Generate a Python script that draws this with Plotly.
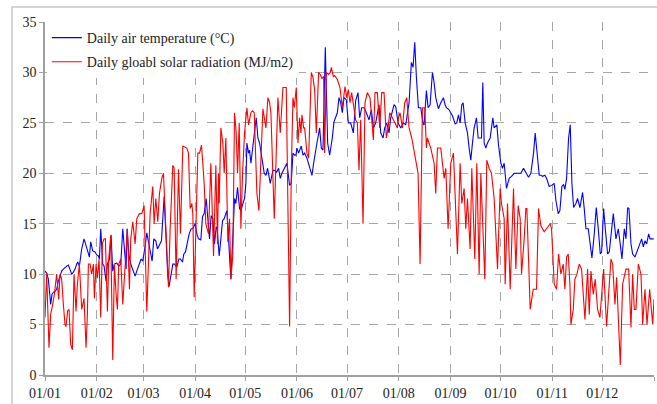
import plotly.graph_objects as go

# Day of year (0 = 1 January) and values
temp_day = [0.0, 1.0, 2.0, 3.4, 4.2, 5.0, 6.0, 7.0, 8.0, 9.0, 10.0, 11.0, 12.0, 13.0, 14.0, 15.0, 16.0, 17.0, 18.0, 19.0,
            19.6, 20.6, 22.0, 23.4, 24.6, 26.0, 26.6, 27.4, 28.6, 30.0, 31.0, 32.0, 32.6, 33.4, 34.6, 35.4, 36.6, 37.4, 38.6, 39.6,
            40.6, 41.6, 43.0, 44.2, 45.4, 46.6, 47.6, 48.6, 49.2, 50.2, 51.4, 53.0, 54.0, 55.0, 56.4, 57.6, 58.6, 59.4, 60.2, 61.0,
            62.0, 63.0, 64.2, 65.2, 66.4, 67.4, 68.6, 69.8, 71.4, 72.4, 73.6, 74.4, 75.4, 76.6, 77.6, 79.0, 80.2, 81.2, 82.4, 83.2,
            84.2, 85.2, 86.4, 87.6, 88.6, 90.0, 91.0, 92.0, 93.4, 94.4, 95.4, 96.6, 97.6, 98.6, 99.6, 100.6, 101.6, 102.6, 103.2, 104.4,
            105.4, 106.4, 107.4, 109.0, 110.0, 111.4, 112.4, 113.6, 114.4, 115.4, 116.6, 117.4, 118.6, 119.6, 120.4, 121.0, 122.0, 122.6, 123.4, 124.4,
            125.4, 126.6, 127.6, 128.6, 130.0, 131.4, 132.4, 133.4, 135.0, 136.6, 137.6, 138.8, 140.0, 141.0, 142.0, 143.4, 145.0, 146.6, 147.6, 148.6,
            149.6, 150.4, 151.0, 152.0, 153.6, 154.6, 155.6, 157.0, 158.0, 159.0, 160.0, 161.0, 162.0, 163.0, 164.6, 165.6, 166.6, 168.0, 169.4, 170.6,
            172.2, 173.2, 175.2, 176.2, 177.2, 178.2, 179.2, 180.6, 181.8, 183.2, 184.8, 186.2, 187.6, 188.6, 189.8, 191.2, 192.6, 194.2, 195.6, 196.8,
            198.2, 199.2, 200.2, 201.2, 202.6, 203.6, 204.8, 206.2, 207.2, 209.2, 210.2, 211.6, 213.2, 214.8, 216.2, 218.2, 219.6, 220.6, 221.6, 222.6,
            223.8, 225.2, 226.6, 227.2, 228.6, 229.6, 230.8, 232.2, 233.2, 234.2, 235.8, 237.2, 238.8, 239.8, 240.6, 242.2, 244.2, 245.8, 246.8, 247.8,
            248.8, 249.8, 250.6, 251.8, 253.2, 254.2, 255.2, 256.2, 257.2, 258.6, 259.6, 260.8, 261.6, 262.4, 263.2, 264.2, 265.2, 266.8, 268.4, 269.2,
            270.8, 271.8, 273.2, 274.2, 275.2, 276.6, 278.2, 279.6, 281.2, 282.6, 283.8, 285.2, 286.8, 288.2, 289.8, 291.2, 292.8, 293.8, 295.2, 296.2,
            297.2, 298.2, 299.6, 300.6, 302.2, 303.6, 305.2, 306.2, 307.6, 308.6, 309.8, 310.8, 311.6, 312.6, 313.8, 314.8, 315.8, 316.8, 318.2, 319.2,
            320.6, 322.2, 323.2, 324.2, 325.6, 327.8, 329.2, 330.4, 331.6, 332.8, 333.6, 334.8, 335.8, 337.2, 338.2, 339.2, 340.6, 342.2, 343.6, 344.6,
            345.8, 347.2, 348.2, 349.2, 350.0, 351.2, 352.2, 353.6, 355.2, 356.6, 357.6, 358.6, 359.6, 360.6, 361.8, 362.6, 363.8, 364.8]
temp_val = [10.3, 10.1, 9.5, 7.0, 8.0, 8.2, 8.3, 8.5, 9.3, 9.9, 10.3, 10.5, 10.7, 10.8, 10.9, 10.5, 10.0, 10.2, 10.5, 11.0,
            11.2, 10.8, 12.5, 13.5, 12.8, 12.0, 11.7, 13.2, 12.3, 12.2, 11.9, 11.8, 11.5, 14.5, 11.0, 10.8, 9.3, 11.0, 11.5, 13.9,
            10.3, 11.0, 11.1, 10.8, 11.0, 14.5, 12.5, 10.5, 14.5, 12.0, 11.0, 10.2, 9.8, 10.3, 11.0, 11.5, 11.3, 12.0, 13.0, 14.1,
            13.3, 12.5, 11.3, 13.5, 13.3, 12.5, 13.0, 13.3, 17.7, 14.0, 9.8, 8.8, 10.0, 11.0, 11.0, 10.7, 11.5, 11.5, 11.2, 12.0,
            12.2, 13.0, 14.0, 14.5, 14.5, 15.0, 14.0, 13.5, 13.4, 15.7, 16.0, 17.5, 15.5, 13.5, 15.8, 15.5, 13.0, 14.7, 14.5, 11.8,
            13.5, 15.3, 15.5, 16.3, 13.5, 9.5, 13.0, 17.5, 17.0, 18.6, 16.5, 16.3, 17.0, 17.5, 19.0, 23.0, 22.0, 22.3, 21.0, 22.5,
            24.0, 25.5, 23.5, 23.0, 21.5, 20.0, 19.8, 20.5, 19.0, 20.3, 20.3, 20.1, 20.5, 19.5, 20.0, 20.5, 21.0, 18.8, 19.0, 22.0,
            21.8, 21.8, 22.5, 22.0, 22.7, 21.8, 22.0, 21.5, 21.0, 20.5, 19.8, 21.0, 22.2, 23.0, 24.5, 22.5, 22.3, 32.5, 23.0, 21.8,
            23.5, 25.1, 26.0, 27.5, 27.0, 26.0, 27.5, 27.3, 25.0, 25.0, 24.0, 27.2, 28.0, 25.5, 26.5, 26.5, 26.0, 25.3, 26.3, 24.5,
            25.0, 26.0, 26.8, 24.0, 23.5, 24.5, 25.0, 24.0, 25.5, 26.8, 26.6, 25.0, 24.5, 25.0, 24.8, 27.0, 31.0, 30.5, 33.0, 29.5,
            26.5, 26.5, 24.9, 24.8, 28.2, 26.5, 26.8, 30.0, 29.0, 27.5, 26.4, 27.0, 27.5, 26.8, 26.5, 26.3, 25.7, 24.9, 25.0, 25.8,
            25.0, 26.8, 27.0, 25.0, 24.0, 22.5, 21.3, 23.0, 24.5, 25.5, 23.5, 23.5, 23.5, 29.0, 23.0, 22.5, 23.0, 23.5, 25.5, 24.5,
            24.8, 22.8, 21.0, 20.5, 21.0, 18.5, 19.5, 19.7, 20.0, 20.0, 20.0, 20.0, 20.5, 20.0, 19.6, 20.0, 22.0, 24.0, 21.0, 19.8,
            19.8, 19.7, 19.8, 19.5, 18.7, 18.8, 19.0, 17.3, 16.0, 16.3, 18.7, 18.9, 18.4, 19.5, 23.5, 24.8, 19.0, 16.6, 17.0, 17.5,
            16.6, 18.1, 16.5, 14.5, 14.5, 11.6, 14.0, 16.6, 14.5, 12.0, 12.2, 16.5, 14.5, 12.0, 12.2, 14.0, 16.0, 13.5, 14.5, 13.2,
            11.5, 14.5, 13.5, 16.6, 16.5, 13.0, 12.0, 11.7, 12.5, 13.0, 13.5, 12.7, 13.3, 13.0, 14.0, 13.5, 13.5, 13.5]

rad_day = [0.0, 1.0, 2.4, 3.4, 4.6, 5.6, 7.0, 8.2, 9.0, 10.0, 11.0, 12.0, 12.6, 13.6, 14.4, 15.4, 16.4, 17.4, 18.6, 19.4,
           20.6, 22.0, 23.4, 24.6, 25.4, 26.0, 27.0, 28.0, 29.0, 29.6, 30.6, 31.4, 32.4, 33.4, 34.4, 35.4, 36.2, 37.4, 38.2, 39.4,
           40.6, 41.6, 42.4, 43.4, 44.2, 45.4, 46.6, 49.4, 50.6, 51.4, 52.6, 54.0, 55.0, 56.6, 58.0, 59.4, 61.0, 62.0, 63.0, 64.6,
           65.4, 66.4, 67.6, 68.6, 70.0, 71.0, 72.0, 74.0, 75.0, 76.6, 77.4, 78.6, 80.0, 81.2, 82.6, 85.0, 86.0, 87.0, 88.0, 88.6,
           89.4, 90.6, 91.6, 92.6, 93.8, 95.4, 96.4, 98.0, 99.4, 101.0, 102.4, 103.4, 104.0, 104.4, 105.4, 106.6, 107.4, 108.4, 109.6, 110.6,
           111.4, 112.6, 113.6, 114.6, 115.4, 116.4, 117.4, 118.4, 119.6, 121.0, 122.0, 123.4, 124.4, 125.4, 127.0, 128.2, 130.6, 132.4, 133.6, 134.6,
           135.4, 137.4, 138.6, 139.6, 141.0, 142.6, 144.6, 145.4, 146.6, 147.6, 148.6, 149.4, 150.6, 151.6, 152.6, 153.4, 154.0, 155.0, 155.6, 157.0,
           158.0, 159.6, 160.6, 161.6, 162.6, 164.0, 165.0, 166.0, 167.0, 167.6, 168.6, 170.0, 171.0, 171.6, 172.8, 173.6, 175.2, 176.8, 178.2, 179.8,
           180.8, 181.8, 182.8, 183.8, 186.2, 187.2, 188.2, 189.2, 190.6, 191.8, 193.2, 194.8, 196.8, 197.8, 199.2, 200.6, 201.8, 203.2, 204.6, 205.6,
           206.6, 208.2, 210.2, 211.2, 211.8, 212.8, 214.2, 215.6, 216.8, 218.2, 219.8, 220.8, 222.2, 223.6, 224.8, 226.2, 227.6, 228.6, 229.2, 231.2,
           233.2, 234.2, 235.2, 237.2, 239.2, 240.2, 241.6, 243.2, 244.8, 247.2, 248.8, 249.8, 251.2, 252.2, 253.2, 254.8, 255.8, 257.6, 258.8, 260.2,
           261.2, 263.6, 264.8, 266.2, 267.6, 269.2, 271.2, 272.8, 273.6, 275.2, 275.8, 277.2, 278.8, 280.8, 282.2, 283.6, 284.8, 285.6, 287.2, 288.2,
           288.8, 289.8, 290.8, 292.6, 294.6, 295.8, 297.2, 299.2, 300.6, 302.8, 303.6, 305.2, 306.6, 307.8, 309.2, 310.6, 311.6, 312.6, 313.6, 314.6,
           315.2, 316.6, 317.6, 318.8, 320.2, 321.6, 323.6, 325.2, 326.2, 327.2, 328.6, 329.8, 331.2, 332.6, 334.8, 336.6, 337.8, 339.2, 340.2, 341.6,
           342.6, 344.8, 346.2, 348.2, 349.8, 351.2, 352.2, 353.2, 354.2, 355.6, 357.2, 358.2, 359.6, 360.8, 362.4, 364.2, 365.0]
rad_val = [5.7, 10.0, 2.7, 6.0, 7.0, 8.0, 10.0, 7.5, 10.0, 9.5, 7.0, 5.0, 4.8, 6.4, 6.5, 3.0, 2.5, 10.0, 6.3, 9.0,
           11.0, 6.5, 7.6, 2.7, 6.0, 11.0, 11.0, 10.0, 11.0, 7.6, 11.0, 9.6, 11.5, 5.7, 13.0, 13.5, 13.5, 6.3, 11.5, 13.8,
           1.5, 11.0, 8.5, 6.5, 11.0, 11.5, 7.0, 14.5, 8.5, 13.5, 15.2, 13.0, 15.5, 16.0, 16.0, 16.8, 6.3, 12.0, 16.0, 18.7,
           15.0, 17.5, 15.2, 18.0, 19.5, 20.0, 16.0, 8.7, 14.5, 20.8, 20.5, 9.5, 20.4, 14.0, 22.7, 22.5, 22.0, 16.5, 17.0, 16.0,
           7.7, 15.0, 22.0, 22.0, 22.8, 19.0, 15.0, 14.0, 21.0, 11.8, 20.8, 13.0, 20.0, 17.0, 24.5, 23.0, 20.0, 23.5, 13.2, 15.5,
           9.5, 12.0, 26.0, 24.0, 20.0, 25.0, 14.5, 20.0, 24.0, 26.5, 24.8, 26.0, 26.2, 26.0, 18.0, 16.3, 26.4, 24.5, 27.5, 27.0,
           26.0, 15.5, 22.5, 27.5, 24.0, 28.5, 28.5, 20.0, 4.8, 20.0, 27.5, 26.5, 28.5, 23.0, 25.5, 24.0, 25.8, 24.5, 24.5, 22.0,
           21.5, 30.0, 29.5, 28.3, 24.0, 30.0, 29.8, 29.4, 29.6, 22.0, 30.0, 29.8, 30.0, 30.5, 29.6, 29.7, 29.3, 28.5, 26.5, 28.6,
           27.5, 28.3, 27.0, 28.0, 25.3, 25.0, 20.3, 25.3, 15.0, 27.0, 28.0, 27.5, 23.3, 28.0, 28.0, 24.5, 28.0, 28.0, 23.5, 24.5,
           26.0, 25.5, 24.8, 24.5, 25.5, 26.0, 24.5, 27.0, 27.5, 24.5, 23.5, 22.5, 21.0, 20.0, 11.0, 26.5, 26.5, 22.5, 23.5, 22.5,
           21.0, 18.0, 22.5, 22.5, 19.5, 20.5, 14.5, 21.0, 22.0, 12.0, 21.0, 17.0, 18.5, 14.5, 17.5, 12.5, 20.5, 11.5, 21.0, 10.0,
           20.0, 9.5, 21.3, 20.5, 20.0, 17.5, 10.5, 18.5, 17.0, 15.5, 9.0, 17.0, 8.5, 18.5, 10.5, 16.8, 15.5, 10.0, 13.5, 16.5,
           16.5, 12.0, 6.5, 8.5, 8.5, 16.5, 14.8, 14.2, 14.5, 15.0, 14.5, 9.0, 8.5, 12.0, 10.0, 11.0, 8.5, 11.7, 12.0, 9.0,
           5.0, 6.5, 9.5, 10.0, 11.0, 10.5, 5.5, 10.5, 6.0, 10.3, 8.0, 9.5, 6.5, 5.7, 10.5, 4.8, 8.0, 11.5, 11.0, 7.0,
           9.7, 1.0, 9.0, 10.5, 10.5, 4.7, 10.0, 6.5, 6.5, 11.0, 10.0, 5.0, 8.5, 5.0, 8.5, 5.0, 7.5]

month_start = [0, 31, 59, 90, 120, 151, 181, 212, 243, 273, 304, 334, 365]
month_labels = ["01/01", "01/02", "01/03", "01/04", "01/05", "01/06",
                "01/07", "01/08", "01/09", "01/10", "01/11", "01/12", ""]
y_ticks = [0, 5, 10, 15, 20, 25, 30, 35]

FONT = "Liberation Serif, Times New Roman, serif"
GRID = "#a6a6a6"
TXT = "#222222"

fig = go.Figure()
fig.add_trace(go.Scatter(x=temp_day, y=temp_val, mode="lines",
                         name="Daily air temperature (°C)", legendgroup="t",
                         line=dict(color="#0000ff", width=1.1)))
fig.add_trace(go.Scatter(x=rad_day, y=rad_val, mode="lines",
                         name="Daily gloabl solar radiation (MJ/m2)", legendgroup="r",
                         line=dict(color="#ff0000", width=1.1)))

fig.update_layout(
    width=657, height=404,
    margin=dict(l=45, r=3, t=22, b=29),
    paper_bgcolor="white", plot_bgcolor="white",
    font=dict(family=FONT, size=14, color=TXT),
    showlegend=True,
    legend=dict(x=0.003, y=1.0, xanchor="left", yanchor="top",
                bgcolor="white", borderwidth=0, traceorder="grouped",
                tracegroupgap=3, font=dict(family=FONT, size=14, color=TXT)),
    shapes=[dict(type="rect", xref="paper", yref="paper",
                 x0=-0.0542, x1=1.02, y0=-0.2, y1=1.0425,
                 line=dict(color="#c8c8c8", width=1.5), layer="below")],
)
fig.update_xaxes(range=[0, 365], tickmode="array", tickvals=month_start, ticktext=month_labels,
                 showgrid=True, gridcolor=GRID, griddash="dash", gridwidth=1,
                 showline=True, linecolor="#a0a0a0", linewidth=1.5,
                 ticks="outside", ticklen=4, tickcolor="#a0a0a0",
                 zeroline=False, tickfont=dict(family=FONT, size=14, color=TXT))
fig.update_yaxes(range=[0, 35], tickmode="array", tickvals=y_ticks,
                 showgrid=True, gridcolor=GRID, griddash="dash", gridwidth=1,
                 showline=True, linecolor="#a0a0a0", linewidth=1.5,
                 ticks="outside", ticklen=4, tickcolor="#a0a0a0",
                 zeroline=False, tickfont=dict(family=FONT, size=14, color=TXT))

fig.write_html("out.html")
